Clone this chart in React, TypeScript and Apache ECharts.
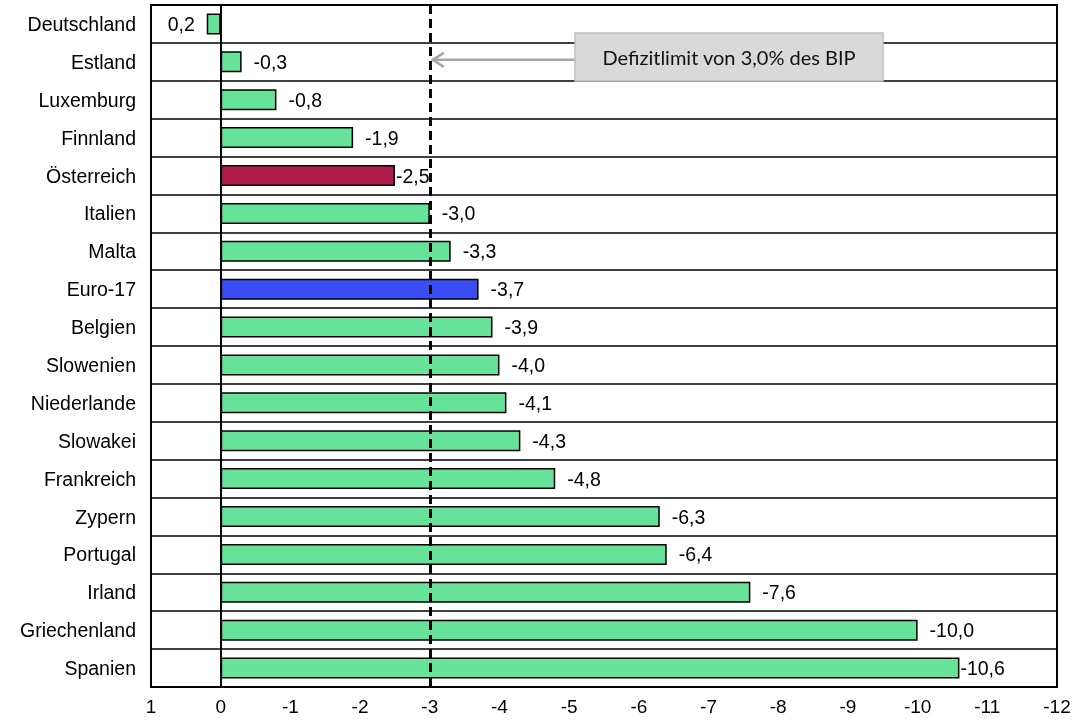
import React, { useEffect, useRef } from "react";
import * as echarts from "echarts";

// Budget balance 2012, in % of GDP
const countries = [
  "Deutschland", "Estland", "Luxemburg", "Finnland", "Österreich", "Italien",
  "Malta", "Euro-17", "Belgien", "Slowenien", "Niederlande", "Slowakei",
  "Frankreich", "Zypern", "Portugal", "Irland", "Griechenland", "Spanien",
];
const balance = [
  0.2, -0.3, -0.8, -1.9, -2.5, -3.0, -3.3, -3.7, -3.9, -4.0, -4.1, -4.3,
  -4.8, -6.3, -6.4, -7.6, -10.0, -10.6,
];
const deficitLimit = -3;
const xTickMin = -12;
const xTickMax = 1;
const limitText = "Defizitlimit von 3,0% des BIP";

const GREEN = "#66E398";
const RED = "#B11D4A";
const BLUE = "#3A4CF6";
const FONT = "Liberation Sans, Arial, sans-serif";

const fmt = (v: number) => v.toFixed(1).replace(".", ",");

export default function App() {
  const ref = useRef<HTMLDivElement>(null);

  useEffect(() => {
    if (!ref.current) return;
    const chart = echarts.init(ref.current, null, { renderer: "svg" });

    const data = balance.map((v, i) => {
      const name = countries[i];
      const color = name === "Österreich" ? RED : name === "Euro-17" ? BLUE : GREEN;
      const tight = name === "Österreich" || name === "Spanien";
      return {
        value: v,
        itemStyle: { color },
        label: {
          position: v >= 0 ? "left" : "right",
          distance: tight ? 1 : 12,
        },
      };
    });

    chart.setOption({
      animation: false,
      grid: {
        left: 151,
        right: 25,
        top: 5,
        bottom: 36,
        show: true,
        borderColor: "#000",
        borderWidth: 2,
        containLabel: false,
      },
      xAxis: {
        type: "value",
        inverse: true,
        min: xTickMin,
        max: xTickMax,
        interval: 1,
        axisLine: { show: false },
        axisTick: { show: false },
        splitLine: { show: false },
        axisLabel: {
          color: "#000",
          fontSize: 19,
          fontFamily: FONT,
          margin: 10,
        },
      },
      yAxis: {
        type: "category",
        inverse: true,
        data: countries,
        axisLine: { show: false },
        axisTick: { show: false },
        splitLine: {
          show: true,
          interval: 0,
          lineStyle: { color: "#000", width: 1.5 },
        },
        axisLabel: {
          interval: 0,
          color: "#000",
          fontSize: 19.5,
          fontFamily: FONT,
          margin: 15,
        },
      },
      series: [
        {
          type: "bar",
          data,
          barWidth: 21,
          itemStyle: { borderColor: "#000", borderWidth: 1.5 },
          label: {
            show: true,
            color: "#000",
            fontSize: 19.5,
            fontFamily: FONT,
            formatter: (p: any) => fmt(p.value),
          },
          markLine: {
            silent: true,
            symbol: "none",
            label: { show: false },
            data: [
              { xAxis: 0, lineStyle: { color: "#000", width: 2, type: "solid" } },
              { xAxis: deficitLimit, lineStyle: { color: "#000", width: 3, type: [9, 5] } },
            ],
          },
        },
      ],
    });

    // Callout box with an arrow pointing at the deficit limit
    const px = chart.convertToPixel({ xAxisIndex: 0 }, deficitLimit) as number;
    const py = chart.convertToPixel({ yAxisIndex: 0 }, "Estland") as number;
    const boxX = 575;
    const boxY = 33;
    const boxW = 308;
    const boxH = 48;
    chart.setOption({
      graphic: [
        {
          type: "line",
          z: 100,
          shape: { x1: boxX, y1: py - 2, x2: px + 3, y2: py - 2 },
          style: { stroke: "#a6a6a6", lineWidth: 2.5 },
        },
        {
          type: "polyline",
          z: 100,
          shape: { points: [[px + 14, py - 9], [px + 3, py - 2], [px + 14, py + 5]] },
          style: { stroke: "#a6a6a6", lineWidth: 2.5, fill: "none" },
        },
        {
          type: "rect",
          z: 101,
          shape: { x: boxX, y: boxY, width: boxW, height: boxH },
          style: { fill: "#d9d9d9", stroke: "#bfbfbf", lineWidth: 1.5 },
        },
        {
          type: "text",
          z: 102,
          x: boxX + boxW / 2,
          y: boxY + boxH / 2,
          style: {
            text: limitText,
            fill: "#111",
            font: "20px Lato, sans-serif",
            align: "center",
            verticalAlign: "middle",
          },
        },
      ],
    });

    return () => chart.dispose();
  }, []);

  return (
    <div
      ref={ref}
      style={{ position: "fixed", left: 0, top: 0, width: 1082, height: 723 }}
    />
  );
}
